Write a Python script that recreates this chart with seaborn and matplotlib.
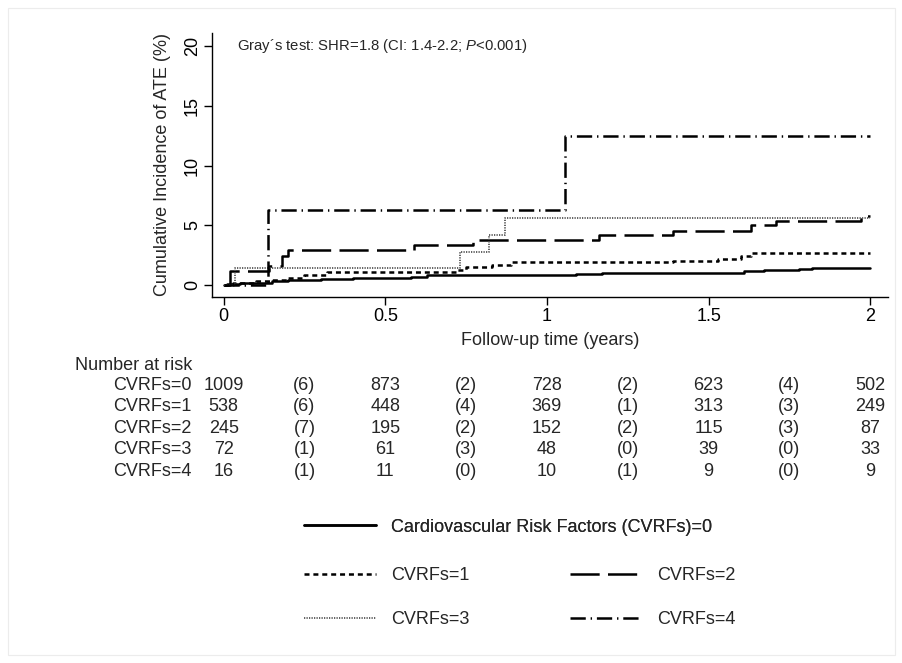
import numpy as np
import matplotlib
matplotlib.use("Agg")
import matplotlib.pyplot as plt
import matplotlib.transforms as mtransforms
from matplotlib.lines import Line2D
from matplotlib.patches import Rectangle
import seaborn as sns

sns.set_theme(style="white")
plt.rcParams["font.family"] = ["Liberation Sans", "DejaVu Sans"]
plt.rcParams["mathtext.fontset"] = "custom"
plt.rcParams["mathtext.rm"] = "Liberation Sans"
plt.rcParams["mathtext.it"] = "Liberation Sans:italic"
plt.rcParams["lines.scale_dashes"] = False

# cumulative incidence (%) step curves
t0 = [0, 0.01, 0.05, 0.15, 0.2, 0.3, 0.4, 0.58, 0.63, 1.09, 1.17, 1.61, 1.67, 1.78, 1.82, 2.0]
ci0 = [0, 0.1, 0.2, 0.3, 0.4, 0.5, 0.6, 0.7, 0.8, 0.92, 1.03, 1.15, 1.25, 1.34, 1.43, 1.43]

t1 = [0, 0.03, 0.1, 0.15, 0.2, 0.25, 0.32, 0.72, 0.75, 0.83, 0.89, 1.39, 1.53, 1.6, 1.63, 2.0]
ci1 = [0, 0.2, 0.3, 0.4, 0.6, 0.8, 1.1, 1.3, 1.5, 1.67, 1.9, 2.05, 2.2, 2.4, 2.65, 2.65]

t2 = [0, 0.02, 0.14, 0.18, 0.2, 0.59, 0.77, 1.16, 1.39, 1.63, 1.71, 1.97, 2.0]
ci2 = [0, 1.2, 1.63, 2.45, 2.9, 3.35, 3.77, 4.18, 4.5, 5.0, 5.4, 5.8, 5.8]

t3 = [0, 0.034, 0.73, 0.82, 0.87, 2.0]
ci3 = [0, 1.4, 2.79, 4.2, 5.6, 5.6]

t4 = [0, 0.136, 1.055, 2.0]
ci4 = [0, 6.25, 12.5, 12.5]

# number at risk table
risk_times = [0, 0.5, 1, 1.5, 2]
cens_times = [0.25, 0.75, 1.25, 1.75]
risk0 = [1009, 873, 728, 623, 502]
risk1 = [538, 448, 369, 313, 249]
risk2 = [245, 195, 152, 115, 87]
risk3 = [72, 61, 48, 39, 33]
risk4 = [16, 11, 10, 9, 9]
cens0 = [6, 2, 2, 4]
cens1 = [6, 4, 1, 3]
cens2 = [7, 2, 2, 3]
cens3 = [1, 3, 0, 0]
cens4 = [1, 0, 1, 0]
group_labels = ["CVRFs=0", "CVRFs=1", "CVRFs=2", "CVRFs=3", "CVRFs=4"]
legend_labels = ["Cardiovascular Risk Factors (CVRFs)=0", "CVRFs=1", "CVRFs=2",
                 "CVRFs=3", "CVRFs=4"]

W, H = 903, 663
fig = plt.figure(figsize=(W / 100, H / 100), dpi=100)
fig.patch.set_facecolor("white")
fig.add_artist(Rectangle((8 / W, 8 / H), 887 / W, 647 / H, transform=fig.transFigure,
                         fill=False, edgecolor="#ececec", lw=0.8))

ax = fig.add_axes([212 / W, 1 - 297 / H, (888 - 212) / W, (297 - 33) / H])

styles = [
    dict(color="black", lw=1.8, dashes=None),
    dict(color="black", lw=1.8, dashes=(3.6, 2.8)),
    dict(color="black", lw=1.8, dashes=(21, 6)),
    dict(color="#555555", lw=1.3, dashes=(0.9, 0.9)),
    dict(color="black", lw=1.8, dashes=(11, 3.5, 1, 3.5)),
]
curves = [(t0, ci0), (t1, ci1), (t2, ci2), (t3, ci3), (t4, ci4)]
handles = []
for (t, ci), st, lab in zip(curves, styles, legend_labels):
    sns.lineplot(x=t, y=ci, ax=ax, color=st["color"], lw=st["lw"],
                 drawstyle="steps-post", estimator=None, sort=False)
    line = ax.lines[-1]
    if st["dashes"] is not None:
        line.set_dashes(st["dashes"])
    h = Line2D([], [], color=st["color"], lw=st["lw"])
    if st["dashes"] is not None:
        h.set_dashes(st["dashes"])
    handles.append(h)

ax.set_xlim(-0.036, 2.055)
ax.set_ylim(-1.0, 21.1)
ax.set_xticks([0, 0.5, 1, 1.5, 2])
ax.set_xticklabels(["0", "0.5", "1", "1.5", "2"])
ax.set_yticks([0, 5, 10, 15, 20])
sns.despine(ax=ax)
for s in ["left", "bottom"]:
    ax.spines[s].set_color("black")
    ax.spines[s].set_linewidth(1.0)
ax.tick_params(axis="both", which="major", direction="out", length=6, width=1,
               color="black", labelsize=13, labelcolor="black", pad=2, left=True, bottom=True)
ax.tick_params(axis="y", labelrotation=90)
for lbl in ax.get_yticklabels():
    lbl.set_va("center")
ax.set_xlabel("Follow-up time (years)", fontsize=13, labelpad=5)
ax.set_ylabel("Cumulative Incidence of ATE (%)", fontsize=13, labelpad=9)

ax.text(0.04, 20, r"Gray´s test: SHR=1.8 (CI: 1.4-2.2; $\mathit{P}$<0.001)",
        fontsize=10.7, va="center", ha="left")

# number at risk table, counts centred under the x ticks
trans = mtransforms.blended_transform_factory(ax.transData, fig.transFigure)
fs = 13
fig.text(192 / W, 1 - 365 / H, "Number at risk", ha="right", va="center", fontsize=fs)
rows_y = [385, 406.7, 428.3, 450, 471.7]
risks = [risk0, risk1, risk2, risk3, risk4]
cens = [cens0, cens1, cens2, cens3, cens4]
for yp, lab, r, c in zip(rows_y, group_labels, risks, cens):
    fy = 1 - yp / H
    fig.text(192 / W, fy, lab, ha="right", va="center", fontsize=fs)
    for xt, v in zip(risk_times, r):
        ax.text(xt, fy, str(v), transform=trans, ha="center", va="center", fontsize=fs)
    for xt, v in zip(cens_times, c):
        ax.text(xt, fy, "(%d)" % v, transform=trans, ha="center", va="center", fontsize=fs)

# legend
leg1 = fig.legend([handles[0]], [legend_labels[0]], loc="center left",
                  bbox_to_anchor=(304 / W, 1 - 527 / H), frameon=False, fontsize=13,
                  handlelength=4.0, handletextpad=0.8, borderpad=0, borderaxespad=0)
leg2 = fig.legend([handles[1], handles[3], handles[2], handles[4]],
                  [legend_labels[1], legend_labels[3], legend_labels[2], legend_labels[4]],
                  loc="upper left", bbox_to_anchor=(304 / W, 1 - 567 / H), ncol=2,
                  frameon=False, fontsize=13, handlelength=4.0, handletextpad=0.8,
                  labelspacing=1.5, columnspacing=5.6, borderpad=0, borderaxespad=0)
fig.add_artist(leg1)

fig.savefig("out.png", dpi=100)
